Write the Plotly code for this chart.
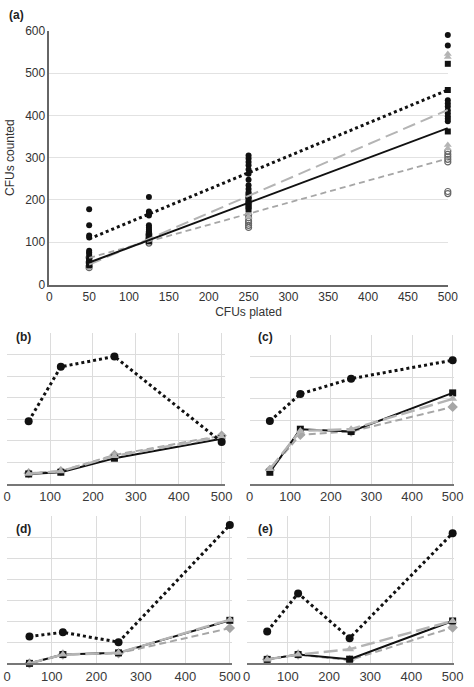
import plotly.graph_objects as go

# panel (a): individual counts per plating level
circ_x = [50]*7 + [125]*8 + [250]*10 + [500]*10
circ_y = [178, 140, 116, 111, 80, 76, 72,
          207, 173, 168, 163, 140, 135, 130, 126,
          305, 298, 290, 282, 272, 262, 248, 235, 226, 218,
          590, 565, 436, 428, 421, 412, 405, 398, 392, 386]
sq_x = [50]*4 + [125]*4 + [250]*5 + [500]*3
sq_y = [62, 55, 50, 46, 120, 112, 106, 102, 210, 200, 192, 185, 178, 522, 460, 362]
tri_x = [50]*4 + [125]*4 + [250]*5 + [500]*4
tri_y = [68, 58, 48, 42, 125, 115, 108, 100, 215, 205, 195, 170, 160, 545, 538, 330, 322]
dia_x = [50]*4 + [125]*4 + [250]*6 + [500]*7
dia_y = [64, 52, 44, 40, 118, 110, 104, 98, 165, 158, 150, 145, 140, 135,
         315, 308, 302, 296, 290, 220, 215]

# regression lines of panel (a)
fit_x = [50, 500]
fit_dot = [108, 460]
fit_solid = [52, 370]
fit_long = [47, 413]
fit_short = [63, 298]

# panels (b)-(e): means, in grid units
plated = [50, 125, 250, 500]
b_dot = [2.92, 5.44, 5.92, 1.95]
b_solid = [0.47, 0.55, 1.2, 2.1]
b_long = [0.48, 0.6, 1.3, 2.2]
b_short = [0.5, 0.6, 1.35, 2.25]
c_dot = [2.95, 4.23, 4.95, 5.82]
c_solid = [0.54, 2.57, 2.46, 4.28]
c_long = [0.69, 2.49, 2.57, 4.0]
c_short = [0.65, 2.31, 2.46, 3.62]
d_dot = [1.28, 1.48, 1.01, 6.59]
d_solid = [0.0, 0.42, 0.5, 2.05]
d_long = [0.0, 0.42, 0.5, 2.08]
d_short = [0.0, 0.42, 0.48, 1.68]
e_dot = [1.52, 3.33, 1.2, 6.2]
e_solid = [0.19, 0.42, 0.2, 2.02]
e_long = [0.19, 0.42, 0.67, 2.02]
e_short = [0.19, 0.42, 0.15, 1.71]

x_ticks = [0, 100, 200, 300, 400, 500]

BLACK = "#111111"
LGRAY = "#b4b4b4"
MGRAY = "#a6a6a6"
FONT = "Liberation Sans"

fig = go.Figure()

# panel (a)
fig.add_trace(go.Scatter(x=dia_x, y=dia_y, mode="markers", cliponaxis=False,
                         marker=dict(symbol="circle-open", size=6, color="#666666", line=dict(width=1.2))))
fig.add_trace(go.Scatter(x=tri_x, y=tri_y, mode="markers", cliponaxis=False,
                         marker=dict(symbol="triangle-up", size=7, color=LGRAY)))
fig.add_trace(go.Scatter(x=sq_x, y=sq_y, mode="markers", cliponaxis=False,
                         marker=dict(symbol="square", size=6, color=BLACK)))
fig.add_trace(go.Scatter(x=circ_x, y=circ_y, mode="markers", cliponaxis=False,
                         marker=dict(symbol="circle", size=6, color=BLACK)))
fig.add_trace(go.Scatter(x=fit_x, y=fit_short, mode="lines",
                         line=dict(color=MGRAY, width=1.8, dash="6px,4px")))
fig.add_trace(go.Scatter(x=fit_x, y=fit_long, mode="lines",
                         line=dict(color=LGRAY, width=2, dash="13px,6px")))
fig.add_trace(go.Scatter(x=fit_x, y=fit_solid, mode="lines",
                         line=dict(color=BLACK, width=2)))
fig.add_trace(go.Scatter(x=fit_x, y=fit_dot, mode="lines",
                         line=dict(color=BLACK, width=3, dash="dot")))

panels = [
    ("2", b_dot, b_solid, b_long, b_short),
    ("3", c_dot, c_solid, c_long, c_short),
    ("4", d_dot, d_solid, d_long, d_short),
    ("5", e_dot, e_solid, e_long, e_short),
]
for ax, dot, solid, longd, short in panels:
    fig.add_trace(go.Scatter(x=plated, y=short, mode="lines+markers", cliponaxis=False,
                             xaxis="x" + ax, yaxis="y" + ax,
                             line=dict(color=MGRAY, width=2, dash="7px,4px"),
                             marker=dict(symbol="diamond", size=8, color=MGRAY)))
    fig.add_trace(go.Scatter(x=plated, y=solid, mode="lines+markers", cliponaxis=False,
                             xaxis="x" + ax, yaxis="y" + ax,
                             line=dict(color=BLACK, width=2),
                             marker=dict(symbol="square", size=7, color=BLACK)))
    fig.add_trace(go.Scatter(x=plated, y=longd, mode="lines+markers", cliponaxis=False,
                             xaxis="x" + ax, yaxis="y" + ax,
                             line=dict(color=LGRAY, width=2.5, dash="14px,5px"),
                             marker=dict(symbol="triangle-up", size=8, color=LGRAY)))
    fig.add_trace(go.Scatter(x=plated, y=dot, mode="lines+markers", cliponaxis=False,
                             xaxis="x" + ax, yaxis="y" + ax,
                             line=dict(color=BLACK, width=3, dash="dot"),
                             marker=dict(symbol="circle", size=8, color=BLACK)))

small_x = dict(tickvals=x_ticks, showgrid=True, gridcolor="#dcdcdc", gridwidth=1,
               showline=True, linecolor="#777777", linewidth=1.5, zeroline=False,
               ticks="", tickfont=dict(size=13, color="#3a3a3a"))
small_y = dict(range=[0, 7], dtick=1, showgrid=True, gridcolor="#dcdcdc", gridwidth=1,
               showticklabels=False, zeroline=False, showline=False, ticks="")

fig.update_layout(
    width=474, height=687,
    margin=dict(l=0, r=0, t=0, b=0),
    plot_bgcolor="white", paper_bgcolor="white",
    showlegend=False,
    font=dict(family=FONT, size=12, color="#333333"),
    xaxis=dict(domain=[0.0985, 0.9648], range=[0, 500], tickvals=list(range(0, 550, 50)),
               showgrid=False, zeroline=False, showline=True, linecolor="#666666", linewidth=1.5,
               ticks="", title=dict(text="CFUs plated", standoff=5, font=dict(size=12))),
    yaxis=dict(domain=[0.5876, 0.9646], range=[0, 600], dtick=100,
               showgrid=True, gridcolor="#e2e2e2", zeroline=False, showline=True,
               linecolor="#666666", linewidth=1.5, ticks="",
               title=dict(text="CFUs counted", standoff=8, font=dict(size=12))),
    xaxis2=dict(small_x, domain=[0.0070, 0.4806], range=[0, 508], anchor="y2"),
    yaxis2=dict(small_y, domain=[0.2911, 0.5153], anchor="x2"),
    xaxis3=dict(small_x, domain=[0.5338, 0.9789], range=[0, 504], anchor="y3"),
    yaxis3=dict(small_y, domain=[0.2916, 0.5124], anchor="x3"),
    xaxis4=dict(small_x, domain=[0.0070, 0.4958], range=[0, 505], anchor="y4"),
    yaxis4=dict(small_y, domain=[0.0247, 0.2431], anchor="x4"),
    xaxis5=dict(small_x, domain=[0.5274, 0.9789], range=[0, 504], anchor="y5"),
    yaxis5=dict(small_y, domain=[0.0247, 0.2431], anchor="x5"),
)

labels = [("(a)", 3, 8), ("(b)", 10, 337), ("(c)", 260, 337), ("(d)", 10, 533), ("(e)", 260, 533)]
for txt, px, py in labels:
    fig.add_annotation(text="<b>" + txt + "</b>", xref="paper", yref="paper",
                       x=px / 474, y=1 - py / 687, xanchor="left", yanchor="middle",
                       showarrow=False, font=dict(size=12, color="#222222"))

# drop the browser's default page margin and scrollbars so the figure fills the window
page_css = ("document.body.style.margin='0';"
            "document.body.style.overflow='hidden';"
            "document.documentElement.style.overflow='hidden';")
fig.write_html("out.html", config={"displayModeBar": False}, post_script=page_css)
